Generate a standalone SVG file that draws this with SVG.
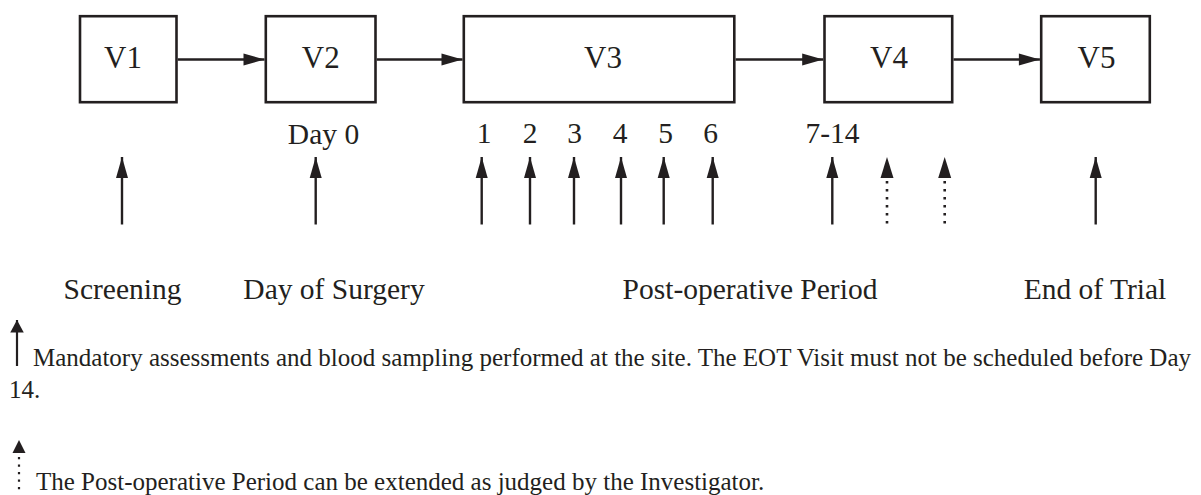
<svg xmlns="http://www.w3.org/2000/svg" width="1201" height="495" viewBox="0 0 1201 495">
<style>
.box{fill:#fff;stroke:#231f20;stroke-width:2.6}
.t{fill:#231f20;text-anchor:middle}
.v{font-size:31px}
.lab{font-size:29.5px}
.leg{fill:#231f20;font-size:25px}
.ln{stroke:#231f20;stroke-width:2.4;fill:none}
.dot{stroke:#231f20;stroke-width:2.6;fill:none;stroke-dasharray:2.5 5.5}
.hd{fill:#231f20}
</style>
<defs>
<marker id="ah" markerUnits="userSpaceOnUse" markerWidth="22" markerHeight="13" refX="21" refY="6.5" orient="auto" overflow="visible">
<path d="M0,0.5 L21,6.5 L0,12.5 z" fill="#231f20"/>
</marker>
<marker id="ahs" markerUnits="userSpaceOnUse" markerWidth="13" markerHeight="14" refX="12.5" refY="6.75" orient="auto" overflow="visible">
<path d="M0,0 L12.5,6.75 L0,13.5 z" fill="#231f20"/>
</marker>
</defs>

<g font-family="'Liberation Serif', 'Times New Roman', serif">
<g id="V1"><rect class="box" x="80" y="16.2" width="96.5" height="86"/><text class="t v" x="123" y="68">V1</text></g>
<g id="V2"><rect class="box" x="265.8" y="16.2" width="109.7" height="86"/><text class="t v" x="320.7" y="68">V2</text></g>
<g id="V3"><rect class="box" x="463.8" y="16.2" width="270.5" height="86"/><text class="t v" x="603" y="68">V3</text></g>
<g id="V4"><rect class="box" x="824.5" y="16.2" width="127.7" height="86"/><text class="t v" x="889" y="68">V4</text></g>
<g id="V5"><rect class="box" x="1041.2" y="16.2" width="108.6" height="86"/><text class="t v" x="1096.5" y="68">V5</text></g>

<g id="connectors">
<line class="ln" x1="177.8" y1="59.5" x2="264.5" y2="59.5" marker-end="url(#ah)"/>
<line class="ln" x1="376.8" y1="59.5" x2="462.5" y2="59.5" marker-end="url(#ah)"/>
<line class="ln" x1="735.6" y1="59.5" x2="823.2" y2="59.5" marker-end="url(#ah)"/>
<line class="ln" x1="953.5" y1="59.5" x2="1039.9" y2="59.5" marker-end="url(#ah)"/>
</g>

<g id="day-labels">
<text class="t lab" x="323.5" y="144">Day 0</text>
<text class="t lab" x="484" y="143">1</text>
<text class="t lab" x="530" y="143">2</text>
<text class="t lab" x="574.5" y="143">3</text>
<text class="t lab" x="620" y="143">4</text>
<text class="t lab" x="665.5" y="143">5</text>
<text class="t lab" x="710.5" y="143">6</text>
<text class="t lab" x="832.5" y="143">7-14</text>
</g>

<g id="assessment-arrows">
<line class="ln" x1="122" y1="224.5" x2="122" y2="157" marker-end="url(#ah)"/>
<line class="ln" x1="315.7" y1="224.5" x2="315.7" y2="157" marker-end="url(#ah)"/>
<line class="ln" x1="481.7" y1="224.5" x2="481.7" y2="157" marker-end="url(#ah)"/>
<line class="ln" x1="530" y1="224.5" x2="530" y2="157" marker-end="url(#ah)"/>
<line class="ln" x1="574" y1="224.5" x2="574" y2="157" marker-end="url(#ah)"/>
<line class="ln" x1="621" y1="224.5" x2="621" y2="157" marker-end="url(#ah)"/>
<line class="ln" x1="663.7" y1="224.5" x2="663.7" y2="157" marker-end="url(#ah)"/>
<line class="ln" x1="712.7" y1="224.5" x2="712.7" y2="157" marker-end="url(#ah)"/>
<line class="ln" x1="832.3" y1="224.5" x2="832.3" y2="157" marker-end="url(#ah)"/>
<line class="ln" x1="1095.7" y1="224.5" x2="1095.7" y2="157" marker-end="url(#ah)"/>
<line class="dot" x1="887" y1="181" x2="887" y2="224"/>
<polygon class="hd" points="887,157 880.5,178 893.5,178"/>
<line class="dot" x1="944.7" y1="181" x2="944.7" y2="224"/>
<polygon class="hd" points="944.7,157 938.2,178 951.2,178"/>
</g>

<g id="period-labels">
<text class="t lab" x="122.5" y="299">Screening</text>
<text class="t lab" x="334" y="299">Day of Surgery</text>
<text class="t lab" x="750" y="299">Post-operative Period</text>
<text class="t lab" x="1095" y="299">End of Trial</text>
</g>

<g id="legend">
<line class="ln" style="stroke-width:2.2" x1="17" y1="366" x2="17" y2="320" marker-end="url(#ahs)"/>
<text class="leg" x="33" y="365.5">Mandatory assessments and blood sampling performed at the site. The EOT Visit must not be scheduled before Day</text>
<text class="leg" x="9" y="398">14.</text>
<polygon class="hd" points="19,440 12.5,453 25.5,453"/>
<line class="dot" style="stroke-width:2.2;stroke-dasharray:2.2 5.3" x1="19" y1="457" x2="19" y2="492"/>
<text class="leg" x="36" y="489.5">The Post-operative Period can be extended as judged by the Investigator.</text>
</g>
</g>
</svg>
